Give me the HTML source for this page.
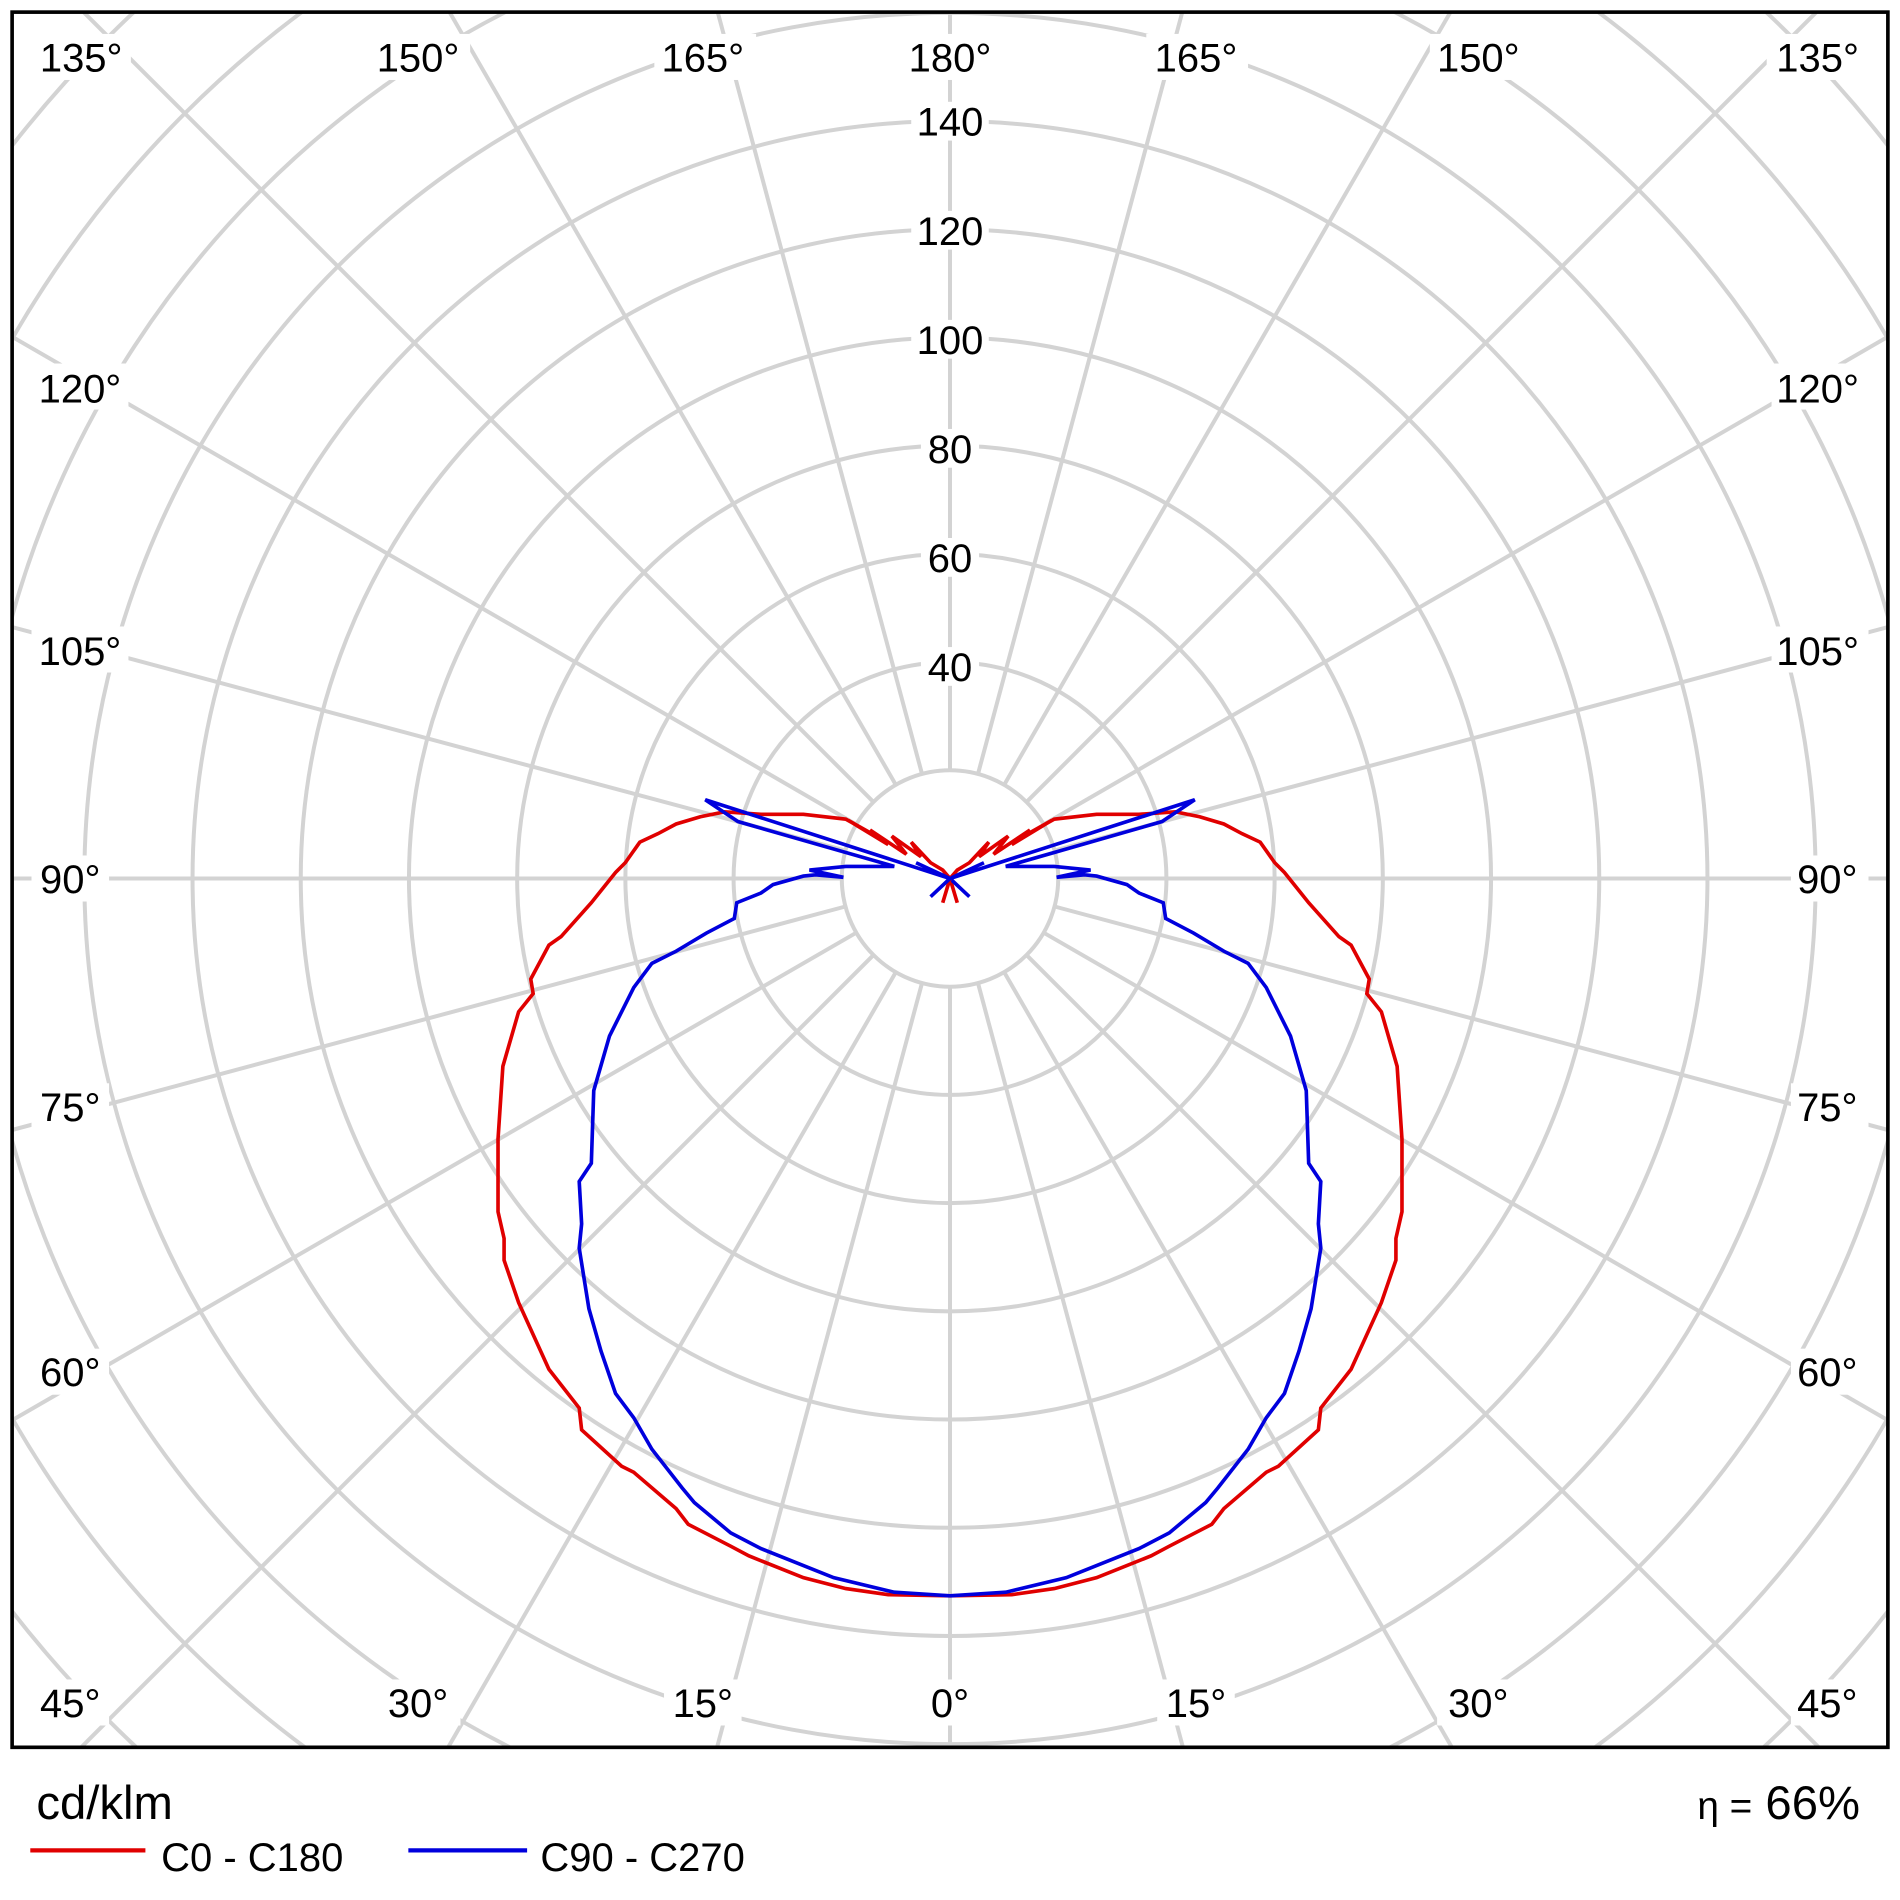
<!DOCTYPE html>
<html><head><style>html,body{margin:0;padding:0;background:#fff;overflow:hidden;width:1900px;height:1900px}svg{display:block}</style></head>
<body>
<svg width="1900" height="1900" viewBox="0 0 1568 1568" xmlns="http://www.w3.org/2000/svg" font-family="Liberation Sans, DejaVu Sans, sans-serif">
<defs><clipPath id="fr"><rect x="10" y="10" width="1548" height="1432"/></clipPath></defs>
<rect width="1568" height="1568" fill="#fff"/>
<g clip-path="url(#fr)" stroke="#d3d3d3" stroke-width="3.3" fill="none">
<circle cx="784" cy="725" r="89.3"/><circle cx="784" cy="725" r="178.6"/><circle cx="784" cy="725" r="267.9"/><circle cx="784" cy="725" r="357.2"/><circle cx="784" cy="725" r="446.5"/><circle cx="784" cy="725" r="535.8"/><circle cx="784" cy="725" r="625.1"/><circle cx="784" cy="725" r="714.4"/><circle cx="784" cy="725" r="803.7"/><circle cx="784" cy="725" r="893"/><circle cx="784" cy="725" r="982.3"/><circle cx="784" cy="725" r="1071.6"/>
<g id="sp">
<line x1="784" y1="814.3" x2="784" y2="1900"/>
<line x1="807.1" y1="811.3" x2="1065" y2="1773"/>
<line x1="828.7" y1="802.3" x2="1331" y2="1672"/>
<line x1="847.1" y1="788.1" x2="1560" y2="1501"/>
<line x1="861.3" y1="769.7" x2="1731" y2="1272"/>
<line x1="870.3" y1="748.1" x2="1832" y2="1006"/>
<line x1="873.3" y1="725" x2="1900" y2="725"/>
<line x1="870.3" y1="701.9" x2="1832" y2="444"/>
<line x1="861.3" y1="680.4" x2="1731" y2="178"/>
<line x1="847.1" y1="661.9" x2="1560" y2="-51"/>
<line x1="828.7" y1="647.7" x2="1331" y2="-222"/>
<line x1="807.1" y1="638.7" x2="1065" y2="-323"/>
<line x1="784" y1="635.7" x2="784" y2="-400"/>
</g>
<use href="#sp" transform="translate(1568,0) scale(-1,1)"/>
</g>
<g fill="none" stroke-width="3" stroke-linejoin="miter">
<g id="cv">
<polyline stroke="#e00000" points="784,1317 835,1316 870,1311 905,1302 950,1284 965,1276 1000,1258 1010,1245 1045,1215 1055,1210 1088,1180 1090,1162 1115,1130 1140,1075 1152,1040 1152,1022 1157,1000 1157,940 1153,880 1140,835 1128,820 1130,808 1115,780 1105,773 1080,745 1060,720 1052,712 1040,695 1025,688 1010,680 990,674 970,670 940,672 905,672 870,676 845,690 868,677 835,697 850,685 820,705 832,690 808,707 816,695 800,712 790,718 784,725 790,745 784,725"/>
<polyline stroke="#0000dd" points="784,1317 830,1314 880,1302 940,1278 965,1265 995,1240 1005,1228 1030,1196 1045,1170 1060,1150 1072,1115 1082,1080 1090,1030 1088,1010 1090,975 1080,960 1078,900 1065,855 1045,815 1030,795 1010,785 985,770 962,758 960,745 940,737 930,730 905,723 895,722 872,724 900,718 870,715 830,715 959,678 986,660 784,725 800,740 784,725 812,712 784,725"/>
</g>
<use href="#cv" transform="translate(1568,0) scale(-1,1)"/>
</g>
<rect x="10" y="10" width="1548" height="1432" fill="none" stroke="#000" stroke-width="3"/>
<g font-size="33" fill="#000" text-anchor="middle">
<g fill="#fff"><rect x="752" y="84" width="64" height="32"/><rect x="752" y="174" width="64" height="32"/><rect x="752" y="264" width="64" height="32"/><rect x="760" y="354" width="48" height="32"/><rect x="760" y="444" width="48" height="32"/><rect x="760" y="534" width="48" height="32"/>
<rect x="28" y="28" width="80" height="38"/><rect x="304" y="28" width="84" height="38"/><rect x="540" y="28" width="84" height="38"/><rect x="744" y="28" width="84" height="38"/><rect x="946" y="28" width="84" height="38"/><rect x="1180" y="28" width="84" height="38"/><rect x="1458" y="28" width="84" height="38"/>
<rect x="26" y="300" width="80" height="38"/><rect x="26" y="517" width="80" height="38"/><rect x="26" y="706" width="64" height="38"/><rect x="26" y="894" width="64" height="38"/><rect x="26" y="1113" width="64" height="38"/>
<rect x="1462" y="300" width="80" height="38"/><rect x="1462" y="517" width="80" height="38"/><rect x="1478" y="706" width="64" height="38"/><rect x="1478" y="894" width="64" height="38"/><rect x="1478" y="1113" width="64" height="38"/>
<rect x="26" y="1386" width="64" height="38"/><rect x="310" y="1386" width="70" height="38"/><rect x="548" y="1386" width="64" height="38"/><rect x="760" y="1386" width="48" height="38"/><rect x="955" y="1386" width="64" height="38"/><rect x="1186" y="1386" width="70" height="38"/><rect x="1478" y="1386" width="64" height="38"/></g>
<text x="784" y="112">140</text><text x="784" y="202">120</text><text x="784" y="292">100</text><text x="784" y="382">80</text><text x="784" y="472">60</text><text x="784" y="562">40</text>
<text x="67" y="59">135°</text><text x="345" y="59">150°</text><text x="580" y="59">165°</text><text x="784" y="59">180°</text><text x="987" y="59">165°</text><text x="1220" y="59">150°</text><text x="1500" y="59">135°</text>
<text x="66" y="332">120°</text><text x="66" y="549">105°</text><text x="58" y="737">90°</text><text x="58" y="925">75°</text><text x="58" y="1144">60°</text>
<text x="1500" y="332">120°</text><text x="1500" y="549">105°</text><text x="1508" y="737">90°</text><text x="1508" y="925">75°</text><text x="1508" y="1144">60°</text>
<text x="58" y="1417">45°</text><text x="345" y="1417">30°</text><text x="580" y="1417">15°</text><text x="784" y="1417">0°</text><text x="987" y="1417">15°</text><text x="1220" y="1417">30°</text><text x="1508" y="1417">45°</text>
</g>
<text x="30" y="1501" font-size="39">cd/klm</text>
<text x="1535" y="1501" font-size="39" text-anchor="end"><tspan font-size="32">η =</tspan> 66%</text>
<line x1="25" y1="1527" x2="120" y2="1527" stroke="#e00000" stroke-width="3.5"/>
<text x="133" y="1544" font-size="33">C0 - C180</text>
<line x1="337" y1="1527" x2="435" y2="1527" stroke="#0000dd" stroke-width="3.5"/>
<text x="446" y="1544" font-size="33">C90 - C270</text>
</svg>
</body></html>
